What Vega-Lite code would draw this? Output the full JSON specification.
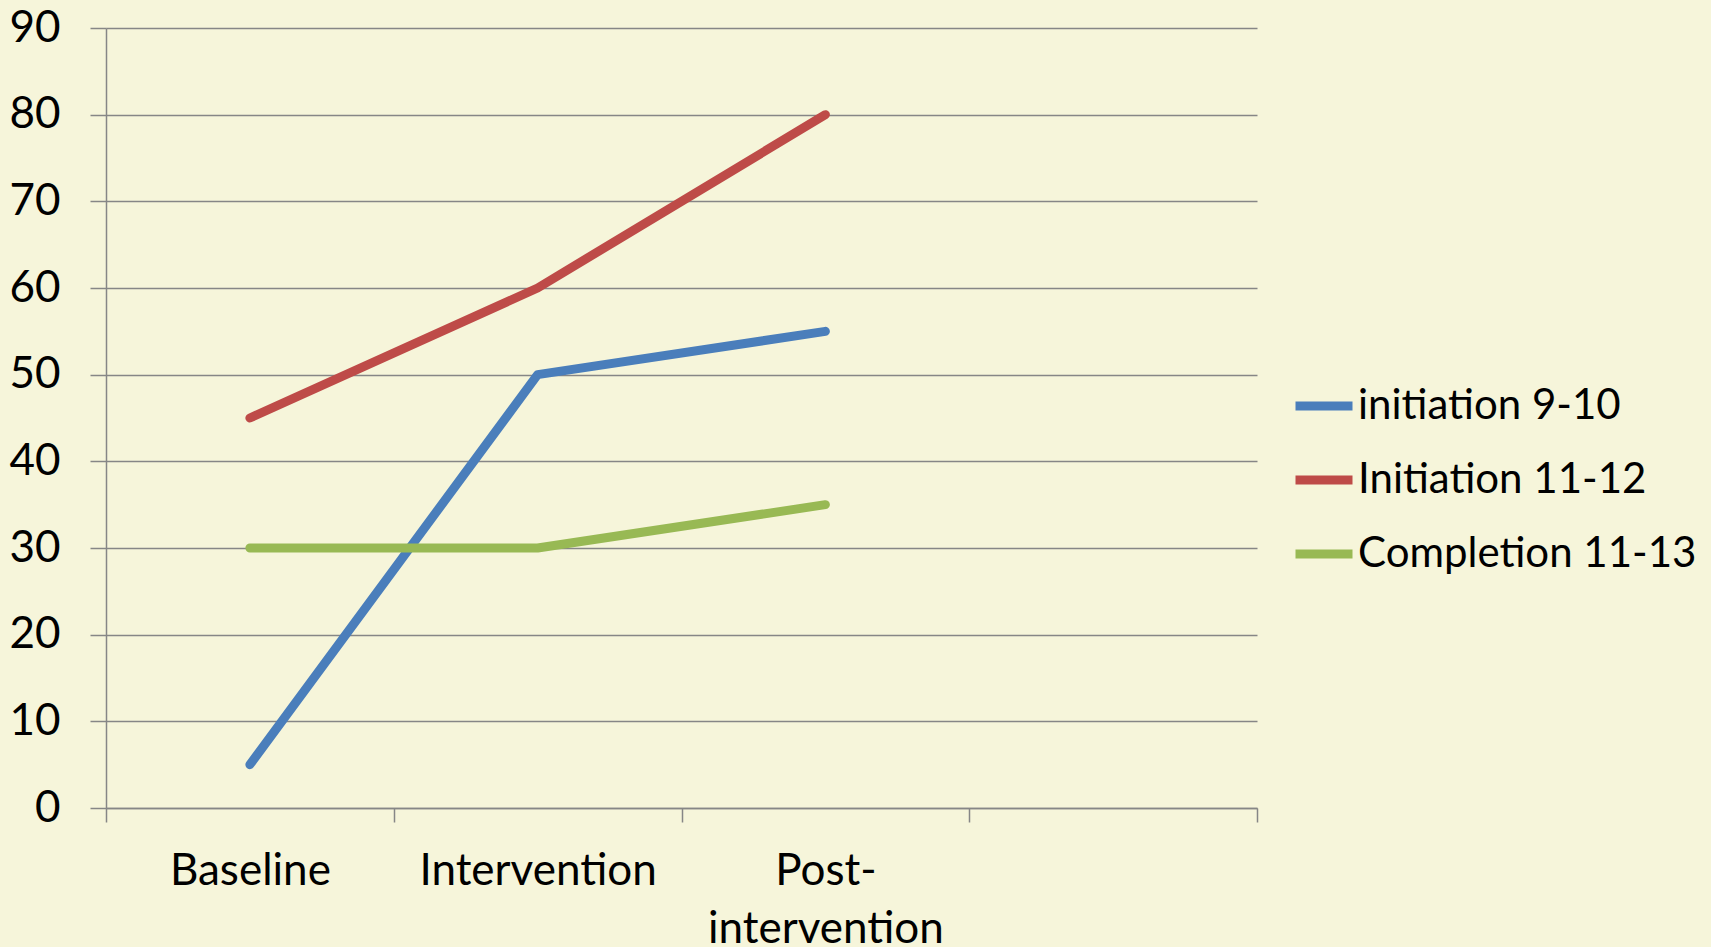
{
  "$schema": "https://vega.github.io/schema/vega-lite/v6.json",
  "autosize": {"type": "none"},
  "width": 1151,
  "height": 780,
  "padding": {"left": 106, "top": 28, "right": 454, "bottom": 139},
  "background": "#F6F5DA",
  "config": {
    "view": {"stroke": null},
    "font": "Lato"
  },
  "data": {
    "values": [
      {"phase": "Baseline", "series": "initiation 9-10", "value": 5},
      {"phase": "Intervention", "series": "initiation 9-10", "value": 50},
      {"phase": "Post-intervention", "series": "initiation 9-10", "value": 55},
      {"phase": "Baseline", "series": "Initiation 11-12", "value": 45},
      {"phase": "Intervention", "series": "Initiation 11-12", "value": 60},
      {"phase": "Post-intervention", "series": "Initiation 11-12", "value": 80},
      {"phase": "Baseline", "series": "Completion 11-13", "value": 30},
      {"phase": "Intervention", "series": "Completion 11-13", "value": 30},
      {"phase": "Post-intervention", "series": "Completion 11-13", "value": 35}
    ]
  },
  "mark": {"type": "line", "strokeWidth": 9, "strokeCap": "round", "strokeJoin": "round"},
  "encoding": {
    "x": {
      "field": "phase",
      "type": "nominal",
      "bandPosition": 0.5,
      "scale": {"type": "band", "domain": ["Baseline", "Intervention", "Post-intervention", "_"], "paddingInner": 0, "paddingOuter": 0},
      "axis": {
        "title": null,
        "labelAngle": 0,
        "tickBand": "extent",
        "labelExpr": "datum.value == 'Post-intervention' ? ['Post-', 'intervention'] : (datum.value == '_' ? '' : datum.value)",
        "labelFont": "Lato",
        "labelFontSize": 44,
        "labelColor": "#000000",
        "labelPadding": 27,
        "labelLineHeight": 58,
        "labelLimit": 600,
        "tickColor": "#868686",
        "tickWidth": 1.5,
        "tickSize": 14,
        "domainColor": "#868686",
        "domainWidth": 1.5,
        "grid": false
      }
    },
    "y": {
      "field": "value",
      "type": "quantitative",
      "scale": {"domain": [0, 90], "nice": false, "zero": true},
      "axis": {
        "title": null,
        "values": [0, 10, 20, 30, 40, 50, 60, 70, 80, 90],
        "labelFont": "Lato",
        "labelFontSize": 44,
        "labelColor": "#000000",
        "labelPadding": 30,
        "tickColor": "#868686",
        "tickWidth": 1.5,
        "tickSize": 16,
        "domainColor": "#868686",
        "domainWidth": 1.5,
        "grid": true,
        "gridColor": "#868686",
        "gridWidth": 1.5
      }
    },
    "color": {
      "field": "series",
      "type": "nominal",
      "scale": {
        "domain": ["initiation 9-10", "Initiation 11-12", "Completion 11-13"],
        "range": ["#4A7EBB", "#BE4B48", "#98B954"]
      },
      "legend": {
        "title": null,
        "orient": "none",
        "legendX": 1185,
        "legendY": 345,
        "symbolType": "stroke",
        "symbolSize": 3249,
        "symbolStrokeWidth": 9,
        "labelFont": "Lato",
        "labelFontSize": 42,
        "labelColor": "#000000",
        "labelOffset": 1,
        "rowPadding": 20,
        "labelLimit": 500
      }
    }
  }
}
